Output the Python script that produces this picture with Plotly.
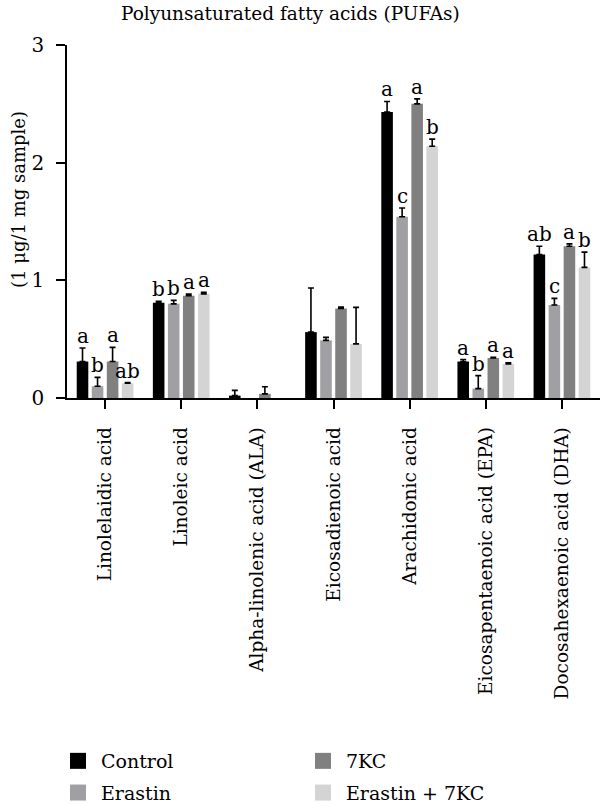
import plotly.graph_objects as go

categories = ["Linolelaidic acid", "Linoleic acid", "Alpha-linolenic acid (ALA)",
              "Eicosadienoic acid", "Arachidonic acid", "Eicosapentaenoic acid (EPA)",
              "Docosahexaenoic acid (DHA)"]
groups = ["Control", "Erastin", "7KC", "Erastin + 7KC"]

control = [0.31, 0.81, 0.02, 0.56, 2.43, 0.31, 1.22]
erastin = [0.10, 0.80, None, 0.49, 1.54, 0.08, 0.79]
kc7 = [0.31, 0.87, 0.035, 0.76, 2.50, 0.34, 1.29]
erastin_kc7 = [0.125, 0.885, None, 0.46, 2.14, 0.29, 1.11]

control_err = [0.115, 0.012, 0.045, 0.375, 0.09, 0.017, 0.07]
erastin_err = [0.075, 0.03, None, 0.025, 0.075, 0.11, 0.057]
kc7_err = [0.12, 0.013, 0.06, 0.014, 0.042, 0.006, 0.02]
erastin_kc7_err = [0.006, 0.014, None, 0.31, 0.06, 0.009, 0.13]

control_sig = ["a", "b", "", "", "a", "a", "ab"]
erastin_sig = ["b", "b", "", "", "c", "b", "c"]
kc7_sig = ["a", "a", "", "", "a", "a", "a"]
erastin_kc7_sig = ["ab", "a", "", "", "b", "a", "b"]

colors = ["#000000", "#a0a0a4", "#808080", "#d4d4d4"]
values = [control, erastin, kc7, erastin_kc7]
errors = [control_err, erastin_err, kc7_err, erastin_kc7_err]
sigs = [control_sig, erastin_sig, kc7_sig, erastin_kc7_sig]
legend_ids = ["legend", "legend", "legend2", "legend2"]

FONT = "DejaVu Serif"
BARGAP = 0.21
BARGROUPGAP = 0.23

W, H = 600, 806
L, R, T, B = 67, 0, 45, 408
pw, ph = W - L - R, H - T - B


def px_x(p):
    return (p - L) / pw


def px_y(p):
    return (H - B - p) / ph


fig = go.Figure()
for g, vals, errs, col in zip(groups, values, errors, colors):
    fig.add_trace(go.Bar(
        name=g, x=categories, y=vals, marker=dict(color=col, line=dict(width=0)),
        error_y=dict(type="data", array=errs, arrayminus=[0] * len(errs), symmetric=False,
                     color="black", thickness=1.6, width=3),
        showlegend=False,
    ))
# legend entries (square swatches)
for g, col, lg in zip(groups, colors, legend_ids):
    fig.add_trace(go.Scatter(
        name=g, x=[None], y=[None], mode="markers",
        marker=dict(symbol="square", size=16, color=col),
        legend=lg, legendgroup=g, showlegend=True,
    ))

slot = (1 - BARGAP) / len(groups)
annotations = []
for j, (vals, errs, sg) in enumerate(zip(values, errors, sigs)):
    for i, cat in enumerate(categories):
        if sg[i]:
            annotations.append(dict(
                x=i + (j - 1.5) * slot, y=vals[i] + (errs[i] or 0), xref="x", yref="y",
                text=sg[i], showarrow=False, yanchor="bottom", xanchor="center",
                yshift=-2, font=dict(family=FONT, size=20, color="black")))

annotations.append(dict(x=px_x(290), y=px_y(14), xref="paper", yref="paper",
                        text="Polyunsaturated fatty acids (PUFAs)", showarrow=False,
                        xanchor="center", yanchor="middle",
                        font=dict(family=FONT, size=18.5, color="black")))
annotations.append(dict(x=px_x(18), y=px_y(200), xref="paper", yref="paper",
                        text="(1 μg/1 mg sample)", textangle=-90, showarrow=False,
                        xanchor="center", yanchor="middle",
                        font=dict(family=FONT, size=18, color="black")))

legend_common = dict(orientation="v", xanchor="left", yanchor="top", traceorder="grouped",
                     tracegroupgap=4, itemwidth=36, itemsizing="trace",
                     font=dict(family=FONT, size=19, color="black"), bgcolor="rgba(0,0,0,0)")

fig.update_layout(
    width=W, height=H, margin=dict(l=L, r=R, t=T, b=B, autoexpand=False),
    paper_bgcolor="white", plot_bgcolor="white",
    barmode="group", bargap=BARGAP, bargroupgap=BARGROUPGAP,
    font=dict(family=FONT, color="black"),
    annotations=annotations,
    showlegend=True,
    legend=dict(x=px_x(55), y=px_y(742), **legend_common),
    legend2=dict(x=px_x(300), y=px_y(742), **legend_common),
    xaxis=dict(showline=True, linecolor="black", linewidth=1.5, ticks="outside", ticklen=9,
               tickwidth=1.5, tickcolor="black", tickangle=-90, tickfont=dict(family=FONT, size=18.5),
               ticklabelstandoff=11, range=[-0.5, 6.5], showgrid=False, zeroline=False),
    yaxis=dict(showline=True, linecolor="black", linewidth=1.5, ticks="outside", ticklen=9,
               tickwidth=1.5, tickcolor="black", tickfont=dict(family=FONT, size=20),
               range=[0, 3], tickvals=[0, 1, 2, 3], ticklabelstandoff=8,
               showgrid=False, zeroline=False),
)

fig.write_html("out.html")
